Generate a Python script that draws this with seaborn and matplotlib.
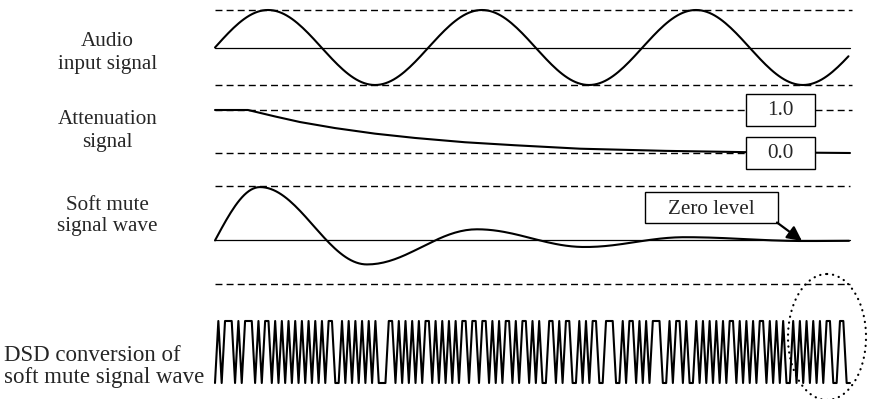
import numpy as np
import pandas as pd
import seaborn as sns
import matplotlib
matplotlib.use("Agg")
import matplotlib.pyplot as plt
from matplotlib.patches import Rectangle, Ellipse

sns.set_theme(style="white")
plt.rcParams['font.family'] = ['Liberation Serif', 'DejaVu Serif']

# ---------------- data (time axis in arbitrary units 0..635) ----------------
T_END = 635
# audio input: extremes (time, value); neighbours outside the window complete the cycle
audio_ext_t = [-53, 53, 160, 267, 374, 481, 588, 695]
audio_ext_v = [-1, 1, -1, 1, -1, 1, -1, 1]
# attenuation signal
atten_t = [0, 33, 60, 85, 120, 160, 200, 250, 300, 365, 450, 530, 635]
atten_v = [1.0, 1.0, 0.85, 0.72, 0.58, 0.45, 0.35, 0.25, 0.18, 0.10, 0.05, 0.02, 0.0]
# soft mute wave extremes
soft_ext_t = [-45, 45, 152, 262, 370, 470, 590, 700]
soft_ext_v = [-0.98, 0.98, -0.44, 0.205, -0.12, 0.06, -0.01, 0.0]
# DSD bit stream (1 = high, 0 = low)
dsd_bits = ("010111010111010110101010101010"
            "101011001010101010100011010101"
            "010110101010101101101101010110"
            "101101010011010110010101100111"
            "001011010101110010110100101010"
            "101011010101011010101001010101"
            "01011001100")
row_labels = [("Audio", "input signal"), ("Attenuation", "signal"),
              ("Soft mute", "signal wave")]
dsd_label = ("DSD conversion of", "soft mute signal wave")
box_labels = ["1.0", "0.0"]
zero_label = "Zero level"


def cos_interp(ext_t, ext_v, n=40):
    ts, vs = [], []
    for i in range(len(ext_t) - 1):
        s = np.linspace(0, 1, n, endpoint=False)
        ts.extend(ext_t[i] + (ext_t[i + 1] - ext_t[i]) * s)
        vs.extend(ext_v[i] + (ext_v[i + 1] - ext_v[i]) * (1 - np.cos(np.pi * s)) / 2)
    ts.append(ext_t[-1]); vs.append(ext_v[-1])
    return np.array(ts), np.array(vs)


W, H = 874, 399
fig = plt.figure(figsize=(W / 100, H / 100), dpi=100)


def px_axes(x0, x1, ytop, ybot):
    ax = fig.add_axes([x0 / W, 1 - ybot / H, (x1 - x0) / W, (ybot - ytop) / H])
    ax.set_axis_off()
    ax.patch.set_visible(False)
    return ax


X0, X1 = 215, 850
DASH = dict(color="black", lw=1.0, ls=(0, (5, 3)), clip_on=False)
THIN = dict(color="black", lw=0.9, clip_on=False)
WAVE = dict(color="black", lw=1.5, estimator=None, sort=False, legend=False)

# ---- audio ----
ax_a = px_axes(X0, X1, 10, 85)
ax_a.set_xlim(0, T_END); ax_a.set_ylim(-1, 1)
ax_a.axhline(1, xmin=0, xmax=1.003, **DASH)
ax_a.axhline(-1, xmin=0, xmax=1.003, **DASH)
ax_a.axhline(0, **THIN)
t, v = cos_interp(audio_ext_t, audio_ext_v)
m = (t >= 0) & (t <= T_END)
sns.lineplot(x=t[m], y=v[m], ax=ax_a, **WAVE)
for l in ax_a.lines: l.set_clip_on(False)

# ---- attenuation ----
ax_t = px_axes(X0, X1, 110, 153)
ax_t.set_xlim(0, T_END); ax_t.set_ylim(0, 1)
ax_t.axhline(1, xmin=0, xmax=1.003, **DASH)
ax_t.axhline(0, xmin=0, xmax=0.84, **DASH)
sns.lineplot(x=atten_t, y=atten_v, ax=ax_t, **WAVE)
for l in ax_t.lines: l.set_clip_on(False)

# ---- soft mute ----
ax_s = px_axes(X0, X1, 186, 283.5)
ax_s.set_xlim(0, T_END); ax_s.set_ylim(-0.79, 1)
ax_s.axhline(1, **DASH)
ax_s.axhline(-0.79, **DASH)
ax_s.axhline(0, **THIN)
t, v = cos_interp(soft_ext_t, soft_ext_v)
m = (t >= 0) & (t <= T_END)
sns.lineplot(x=t[m], y=v[m], ax=ax_s, **WAVE)
for l in ax_s.lines: l.set_clip_on(False)

# ---- DSD ----
ax_d = px_axes(X0, X1, 321, 383)
ax_d.set_xlim(0, T_END); ax_d.set_ylim(0, 1)
bits = [int(b) for b in dsd_bits]
bt = np.linspace(0, T_END, len(bits))
sns.lineplot(x=bt, y=bits, ax=ax_d, color="black", lw=1.5, estimator=None, sort=False, legend=False)
for l in ax_d.lines: l.set_clip_on(False)

# ---- overlay (texts, boxes, annotations) ----
ov = fig.add_axes([0, 0, 1, 1])
ov.set_xlim(0, W); ov.set_ylim(H, 0)
ov.set_axis_off(); ov.patch.set_visible(False)

FS = 15.2
baselines = [(46.5, 68.5), (124.5, 146.5), (209.5, 231.5)]
for (l1, l2), (b1, b2) in zip(row_labels, baselines):
    ov.text(107.5, b1, l1, ha="center", va="baseline", fontsize=FS)
    ov.text(107.5, b2, l2, ha="center", va="baseline", fontsize=FS)
ov.text(4, 361, dsd_label[0], ha="left", va="baseline", fontsize=16.5)
ov.text(4, 383, dsd_label[1], ha="left", va="baseline", fontsize=16.5)

for lab, (yt, yb) in zip(box_labels, [(93.5, 126), (136.5, 169)]):
    ov.add_patch(Rectangle((745.5, yt), 69.5, yb - yt, fc="white", ec="black", lw=1.0, zorder=5))
    ov.text(780, (yt + yb) / 2 + 5.5, lab, ha="center", va="baseline", fontsize=FS, zorder=6)

ov.add_patch(Rectangle((644.5, 191.5), 133, 31.5, fc="white", ec="black", lw=1.0, zorder=5))
ov.text(711, 214, zero_label, ha="center", va="baseline", fontsize=FS, zorder=6)
ov.annotate("", xy=(802, 241), xytext=(777, 222.5),
            arrowprops=dict(arrowstyle="-|>", lw=1.6, color="black", mutation_scale=22,
                            shrinkA=0, shrinkB=0), zorder=6)

ov.add_patch(Ellipse((827, 337), 78, 126, fill=False, ec="black", lw=1.6,
                     ls=(0, (0.1, 2.6)), capstyle="round", zorder=6))

fig.savefig("out.png", dpi=100)
